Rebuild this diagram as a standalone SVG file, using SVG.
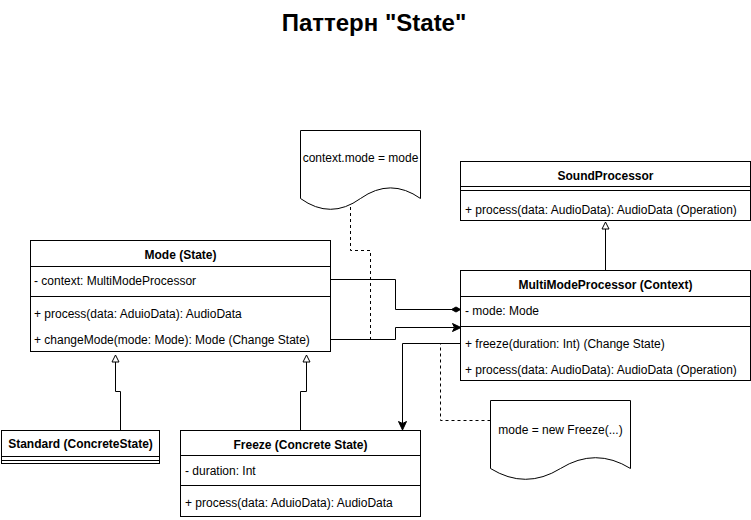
<svg xmlns="http://www.w3.org/2000/svg" width="751" height="520" viewBox="0 0 751 520">
<style>
.box{fill:#fff;stroke:#000;stroke-width:1}
.ln{fill:none;stroke:#000;stroke-width:1}
.dash{fill:none;stroke:#000;stroke-width:1;stroke-dasharray:3 3}
text{font-family:"Liberation Sans",Arial,Helvetica,sans-serif;font-size:12px;fill:#000}
.b{font-weight:bold}
.c{text-anchor:middle}
.title{font-size:24px;font-weight:bold;text-anchor:middle}
.hollow{fill:#fff;stroke:#000;stroke-width:1}
.solid{fill:#000;stroke:#000;stroke-width:1}
</style>
<rect x="0" y="0" width="751" height="520" fill="#fff"/>
<text class="title" x="374" y="30.5">Паттерн "State"</text>

<g id="connectors">
  <path class="ln" d="M331,279.5 H395.5 V309.5 H452"/>
  <polygon class="solid" points="460.5,309.5 456,307 451.5,309.5 456,312"/>
  <path class="ln" d="M331,339.5 H395.5 V327.5 H454"/>
  <path class="solid" d="M461,327.5 L452.5,323.5 L454.5,327.5 L452.5,331.5 Z"/>
  <path class="ln" d="M461,343.5 H402.5 V424"/>
  <path class="solid" d="M402.5,430 L398.5,421.5 L402.5,423.5 L406.5,421.5 Z"/>
  <path class="ln" d="M120.5,430 V391.5 H115.5 V362"/>
  <polygon class="hollow" points="115.5,355 112,362 119,362"/>
  <path class="ln" d="M300.5,430 V391.5 H306.5 V362"/>
  <polygon class="hollow" points="306.5,355 303,362 310,362"/>
  <path class="ln" d="M605.5,270 V229"/>
  <polygon class="hollow" points="605.5,222 602,229 609,229"/>
  <path class="dash" d="M350.5,207 V250.5 H370.5 V339.5"/>
  <path class="dash" d="M490.5,420.5 H440.5 V343.5"/>
</g>

<g id="mode">
  <rect class="box" x="30.5" y="240.5" width="300" height="111"/>
  <line class="ln" x1="30.5" y1="266.5" x2="330.5" y2="266.5"/>
  <line class="ln" x1="30.5" y1="296.5" x2="330.5" y2="296.5"/>
  <text class="b c" x="180.5" y="258.5">Mode (State)</text>
  <text x="34" y="284.5">- context: MultiModeProcessor</text>
  <text x="34" y="318">+ process(data: AduioData): AudioData</text>
  <text x="34" y="344">+ changeMode(mode: Mode): Mode (Change State)</text>
</g>

<g id="standard">
  <rect class="box" x="1.5" y="430.5" width="158" height="33"/>
  <line class="ln" x1="1.5" y1="456.5" x2="159.5" y2="456.5"/>
  <line class="ln" x1="1.5" y1="460.5" x2="159.5" y2="460.5"/>
  <text class="b c" x="80.5" y="448">Standard (ConcreteState)</text>
</g>

<g id="freeze">
  <rect class="box" x="180.5" y="430.5" width="240" height="86"/>
  <line class="ln" x1="180.5" y1="455.5" x2="420.5" y2="455.5"/>
  <line class="ln" x1="180.5" y1="485.5" x2="420.5" y2="485.5"/>
  <text class="b c" x="300.5" y="449">Freeze (Concrete State)</text>
  <text x="185" y="475">- duration: Int</text>
  <text x="185" y="507">+ process(data: AduioData): AudioData</text>
</g>

<g id="soundprocessor">
  <rect class="box" x="460.5" y="161.5" width="290" height="59"/>
  <line class="ln" x1="460.5" y1="186.5" x2="750.5" y2="186.5"/>
  <line class="ln" x1="460.5" y1="190.5" x2="750.5" y2="190.5"/>
  <text class="b c" x="605.5" y="179.5">SoundProcessor</text>
  <text x="465" y="213.5">+ process(data: AudioData): AudioData (Operation)</text>
</g>

<g id="multimodeprocessor">
  <rect class="box" x="460.5" y="270.5" width="290" height="110"/>
  <line class="ln" x1="460.5" y1="296.5" x2="750.5" y2="296.5"/>
  <line class="ln" x1="460.5" y1="326.5" x2="750.5" y2="326.5"/>
  <text class="b c" x="605.5" y="288.5">MultiModeProcessor (Context)</text>
  <text x="465" y="314.5">- mode: Mode</text>
  <text x="465" y="347.5">+ freeze(duration: Int) (Change State)</text>
  <text x="465" y="373.5">+ process(data: AudioData): AudioData (Operation)</text>
</g>

<g id="note-context">
  <path class="box" d="M300.5,130.5 H420.5 V198.5 Q390.5,177.3 360.5,198.5 Q330.5,220.1 300.5,198.5 Z"/>
  <text class="c" x="360.5" y="162">context.mode = mode</text>
</g>

<g id="note-freeze">
  <path class="box" d="M490.5,400.5 H630.5 V468.5 Q595.5,446.9 560.5,468.5 Q525.5,490.1 490.5,468.5 Z"/>
  <text class="c" x="560.5" y="434">mode = new Freeze(...)</text>
</g>
</svg>
